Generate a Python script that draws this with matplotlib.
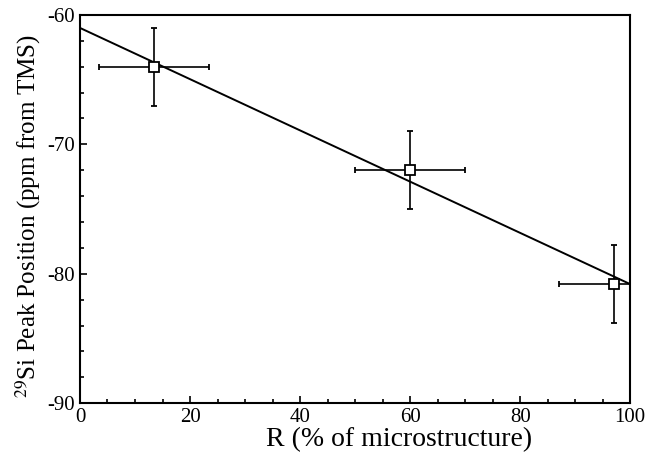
import numpy as np
import matplotlib.pyplot as plt
from matplotlib.ticker import MultipleLocator

# data
r_pct = [13.5, 60.0, 97.0]
si_peak = [-64.0, -72.0, -80.8]
r_err = [10.0, 10.0, 10.0]
peak_err = [3.0, 3.0, 3.0]

# fitted line end points
fit_x = [0, 100]
fit_y = [-61.0, -80.8]

plt.rcParams['font.family'] = ['Liberation Serif', 'DejaVu Serif']
plt.rcParams['mathtext.fontset'] = 'stix'
plt.rcParams['axes.unicode_minus'] = False

fig = plt.figure(figsize=(6.45, 4.54), dpi=100)
ax = fig.add_axes([0.124, 0.112, 0.853, 0.855])

ax.plot(fit_x, fit_y, color='black', lw=1.4, zorder=2)
ax.errorbar(r_pct, si_peak, xerr=r_err, yerr=peak_err, fmt='s', ms=7,
            mfc='white', mec='black', mew=1.3, ecolor='black', elinewidth=1.2,
            capsize=2.5, capthick=1.2, zorder=3)

ax.set_xlim(0, 100)
ax.set_ylim(-90, -60)
ax.xaxis.set_major_locator(MultipleLocator(20))
ax.xaxis.set_minor_locator(MultipleLocator(5))
ax.yaxis.set_major_locator(MultipleLocator(10))
ax.yaxis.set_minor_locator(MultipleLocator(2))
ax.tick_params(which='both', direction='in', width=1.2, labelsize=15)
ax.tick_params(which='major', length=5)
ax.tick_params(which='minor', length=3)
for s in ax.spines.values():
    s.set_linewidth(1.5)

ax.set_xlabel("R (% of microstructure)", fontsize=20)
ax.set_ylabel("$^{29}$Si Peak Position (ppm from TMS)", fontsize=18)
ax.xaxis.set_label_coords(0.58, -0.062)
ax.yaxis.set_label_coords(-0.067, 0.482)

fig.savefig("out.png", dpi=100)
